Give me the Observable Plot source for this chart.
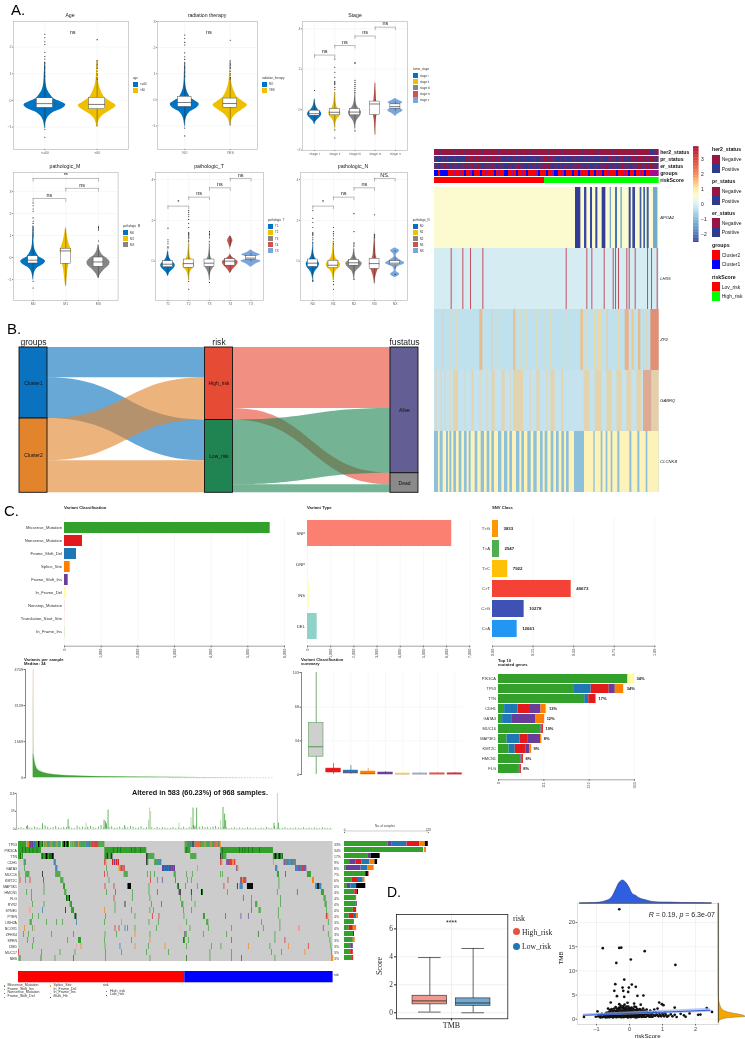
<!DOCTYPE html>
<html><head><meta charset="utf-8">
<script src="https://cdn.jsdelivr.net/npm/d3@7"></script>
<script src="https://cdn.jsdelivr.net/npm/@observablehq/plot@0.6"></script>
<style>
html,body{margin:0;padding:0;background:#fff;overflow:hidden}
#root{position:relative;width:745px;height:1039px;overflow:hidden;font-family:"Liberation Sans",Arial,sans-serif;filter:blur(.3px)}
.t{position:absolute;white-space:pre;line-height:1}
.s{position:absolute}
</style></head><body><div id="root"></div>
<script>
/* ---------- palette ---------- */
const jco=["#0073c2","#efc000","#868686","#cd534c","#7aa6dc"];
const mutColors={m:"#33a02c",g:"#156a14",n:"#e31a1c",d:"#1f78b4",i:"#6a3d9a",s:"#ff7f00",f:"#ffff99",r:"#fb9a99",b:"#000000"};

/* ---------- A: violin shapes, [score, half width] ---------- */
const vMain=[[-1.05,.004],[-.9,.012],[-.75,.03],[-.6,.07],[-.45,.16],[-.3,.34],[-.17,.40],[-.05,.30],[.05,.18],[.2,.11],[.4,.05],[.6,.025],[.9,.012],[1.45,.004]];
const vWide=[[-1,.004],[-.85,.02],[-.7,.05],[-.55,.12],[-.4,.24],[-.2,.36],[-.05,.26],[.1,.15],[.3,.09],[.5,.05],[.7,.025],[1,.012],[1.5,.004]];
const vI=[[-.75,.01],[-.6,.06],[-.45,.2],[-.3,.33],[-.2,.35],[-.1,.3],[0,.18],[.15,.08],[.3,.04],[.55,.005]];
const vII=[[-1,.005],[-.8,.02],[-.6,.06],[-.45,.14],[-.3,.27],[-.15,.3],[0,.22],[.1,.13],[.3,.06],[.5,.035],[.75,.015],[1,.004]];
const vIII=[[-1.05,.004],[-.8,.02],[-.6,.07],[-.45,.16],[-.3,.28],[-.12,.32],[0,.25],[.12,.14],[.3,.06],[.5,.03],[.7,.012],[1.1,.004]];
const vIV=[[-1.3,.003],[-.9,.02],[-.5,.05],[-.2,.1],[0,.12],[.2,.1],[.5,.06],[.9,.03],[1.4,.003]];
const vV=[[-.32,.01],[-.2,.15],[-.05,.38],[.08,.2],[.15,.12],[.22,.2],[.35,.36],[.45,.18],[.55,.01]];
const vM1=[[-1.35,.003],[-.9,.04],[-.5,.07],[-.2,.11],[.05,.12],[.3,.18],[.5,.13],[.8,.07],[1.1,.03],[1.4,.003]];
const vMX=[[-.95,.01],[-.75,.07],[-.55,.18],[-.35,.33],[-.2,.35],[-.05,.27],[.1,.13],[.3,.05],[.6,.005]];
const vT4=[[-.6,.01],[-.4,.14],[-.2,.32],[-.05,.38],[.1,.22],[.3,.02],[.6,.01],[.85,.08],[1,.13],[1.15,.07],[1.25,.005]];
const vTX=[[-.3,.01],[-.15,.2],[0,.48],[.08,.25],[.15,.14],[.22,.25],[.3,.45],[.42,.2],[.55,.01]];
const vN2=[[-.95,.004],[-.7,.03],[-.5,.1],[-.3,.3],[-.12,.4],[0,.3],[.12,.14],[.3,.05],[.5,.02],[.8,.004]];
const vN3=[[-1.15,.005],[-.8,.05],[-.5,.14],[-.25,.24],[-.1,.25],[.05,.16],[.25,.08],[.6,.05],[1,.02],[1.45,.003]];
const vNX=[[-.8,.01],[-.65,.22],[-.5,.05],[-.3,.1],[-.1,.47],[.05,.25],[.2,.06],[.35,.08],[.5,.22],[.65,.01]];

/* outliers */
const outHigh=[2.48,2.35,2.2,2.1,1.8,1.65,1.55,1.42,1.38,1.33,1.28,1.24,1.2,1.15,1.1,1.05,1,.95,.9,-1.08,-1.38];
const outOld=[2.28,1.5,1.45,1.4,1.35,1.3,1.25,1.2,1.1,1,.95,.85,.8,-.95];
const outStageII=[2.5,2.1,1.85,1.6,1.4,1.35,1.3,1.25,1.1,1,-1,-1.4];
const outStageIII=[2.33,2.28,1.45,1.35,1.25,1.15,1.05,.95,.85,-1.05];
const outMX=[1.42,1.36,1.3,1.25,.75];
const outT1=[1.62,1.05,.95,.85,.7,.65];
const outT2=[2.48,2.4,2.3,2.2,2.05,1.85,1.65,1.4,1.35,1.3,1.25,1.2,1.15,1.1,1,.95,-1,-1.38];
const outT3=[1.45,1.38,1.32,1.25,1.15,.95,-1.05];
const outN0=[2.48,2.1,1.9,1.65,1.4,1.35,1.3,1.25,1.15,1.05,.9,-1,-.95];
const outN1=[1.65,1.45,1.35,1.25,1.1,.95,.85,-1,-1.15,-1.38];
const outN2=[2.33,1.45,.9,.85,.75,-.9];
const outN3=[2.28,1.3,1.25,1.2,1.15];

const agePanel={title:"Age",tx:70,ty:16,frame:[13,21,128,149],cats:["<=60",">60"],yDomain:[-1.84,2.96],yTicks:[-1,0,1,2],
  violins:[{c:0,p:vMain,b:[-1.05,-.28,-.12,.08,.9],o:outHigh,w:.155},{c:1,p:vWide,b:[-.95,-.33,-.15,.1,.8],o:outOld,w:.155}],
  notes:[[.53,2.57,"ns"]]};
const radPanel={title:"radiation therapy",tx:207,ty:16,frame:[157,21,257,149],cats:["NO","YES"],yDomain:[-1.9,3],yTicks:[-1,0,1,2,3],
  violins:[{c:0,p:vMain,k:.8,b:[-1,-.27,-.1,.12,.9],o:outHigh,w:.15},{c:1,p:vWide,k:1.05,b:[-.95,-.3,-.14,.05,.85],o:outOld,w:.15}],
  notes:[[.53,2.6,"ns"]]};
const stagePanel={title:"Stage",tx:355,ty:16,frame:[302,21,407,150],cats:["stage i","stage ii","stage iii","stage iv","stage v"],yDomain:[-2.02,4.36],yTicks:[-2,0,2,4],
  violins:[{c:0,p:vI,b:[-.6,-.3,-.2,-.05,.5],o:[.95],w:.25},{c:1,p:vII,b:[-.9,-.28,-.13,.03,.85],o:outStageII,w:.25},{c:2,p:vIII,b:[-.95,-.28,-.12,.03,.8],o:outStageIII,w:.25},{c:3,p:vIV,b:[-1.25,-.27,.28,.4,1.3],o:[],w:.25},{c:4,p:vV,b:[-.1,.05,.15,.26,.4],o:[],w:.25}],
  brackets:[[0,1,2.7,"ns"],[1,2,3.17,"ns"],[2,3,3.64,"ns"],[3,4,4.08,"ns"]]};
const mPanel={title:"pathologic_M",tx:65,ty:167,frame:[13,172,117.6,300],cats:["M0","M1","MX"],yDomain:[-1.95,3.86],yTicks:[-1,0,1,2,3],
  violins:[{c:0,p:vMain,k:.95,b:[-1,-.27,-.12,.06,.85],o:outHigh,w:.15},{c:1,p:vM1,b:[-1.3,-.28,.3,.4,1.3],o:[],w:.15},{c:2,p:vMX,b:[-.95,-.42,-.2,0,.55],o:outMX,w:.15}],
  brackets:[[0,1,2.68,"ns"],[1,2,3.14,"ns"],[0,2,3.59,"**"]]};
const tPanel={title:"pathologic_T",tx:209,ty:167,frame:[155,172,263,300],cats:["T1","T2","T3","T4","TX"],yDomain:[-1.93,4.35],yTicks:[0,2,4],
  violins:[{c:0,p:vI,b:[-.7,-.3,-.15,0,.45],o:outT1,w:.24},{c:1,p:vII,k:.95,b:[-.95,-.32,-.12,.08,.85],o:outT2,w:.24},{c:2,p:vIII,k:.72,b:[-.95,-.28,-.1,.08,.85],o:outT3,w:.24},{c:3,p:vT4,b:[-.55,-.22,0,.1,.3],o:[1.2,1.1,1,.9,.8],w:.24},{c:4,p:vTX,b:[-.05,.07,.15,.25,.4],o:[],w:.24}],
  brackets:[[0,1,2.7,"*"],[1,2,3.14,"ns"],[2,3,3.6,"ns"],[3,4,4.06,"ns"]]};
const nPanel={title:"pathologic_N",tx:353,ty:167,frame:[300,172,407,300],cats:["N0","N1","N2","N3","NX"],yDomain:[-1.93,4.35],yTicks:[0,2,4],
  violins:[{c:0,p:vIII,b:[-1,-.28,-.1,.08,.9],o:outN0,w:.24},{c:1,p:vII,k:1.15,b:[-.95,-.35,-.2,.02,.85],o:outN1,w:.24},{c:2,p:vN2,b:[-.9,-.22,-.08,.06,.6],o:outN2,w:.24},{c:3,p:vN3,b:[-1.1,-.38,-.12,.12,1.1],o:outN3,w:.24},{c:4,p:vNX,b:[-.4,-.2,-.1,0,.2],o:[.5,-.65],w:.24}],
  brackets:[[0,1,2.7,"*"],[1,2,3.14,"ns"],[2,3,3.6,"ns"],[3,4,4.06,"NS."]]};

const legendsA=[
 {x:133,y:78,title:"age",items:["<=60",">60"],y0:81.5},
 {x:262,y:78,title:"radiation_therapy",items:["NO","YES"],y0:81.5},
 {x:413,y:69.3,title:"tumor_stage",items:["stage i","stage ii","stage iii","stage iv","stage v"],y0:73},
 {x:123,y:226.3,title:"pathologic_M",items:["M0","M1","MX"],y0:230},
 {x:268,y:220,title:"pathologic_T",items:["T1","T2","T3","T4","TX"],y0:223.7},
 {x:412.7,y:220,title:"pathologic_N",items:["N0","N1","N2","N3","NX"],y0:223.7}];

/* ---------- A right: heatmap, sample rank 0..674 ---------- */
const heatRows=["APOA2","LHX5","ZP2","GABRQ","CLCNKB"];
const heatBase={APOA2:.5,LHX5:-.06,ZP2:-.3,GABRQ:-.25,CLCNKB:-.85};
const heatStripeOpacity={APOA2:1,LHX5:.72,ZP2:.7,GABRQ:.55,CLCNKB:1};
const stripesAPOA2=[[423,439,-2.5],[450,457,-2.4],[468,474,-2.4],[484,490,-2.4],[503,514,-2.5],[527,531,-1.2],[543,549,-2],[559,564,-1],[584,590,-2.4],[595,603,-2.4],[617,622,-2.2],[628,633,-2.2],[638,644,-2.2],[657,670,-1.2]];
const stripesLHX5=[50,85,108,145,395,457,472,509,536,543,552,577,584,602,639,651,668].map(s=>[s,s+3,3.5]);
const stripesZP2=[[26,29,1.3],[50,53,1.2],[67,70,1.2],[136,145,1.6],[172,175,1.3],[190,193,1.2],[237,244,1.5],[257,260,1.2],[277,280,1.2],[307,310,1.2],[332,335,1.2],[349,352,1.2],[375,378,1.2],[398,401,1.2],[439,447,1.5],[457,460,1.2],[477,485,1.2],[492,502,1.2],[517,522,1.3],[537,540,1.2],[552,555,1.2],[572,584,1.7],[592,599,1.4],[612,619,1.6],[627,630,1.3],[637,640,1.3],[649,674,2.2]];
const stripesGABRQ=[[5,8,1.3],[20,23,1.3],[32,35,1.3],[47,50,1.3],[57,72,1.3],[92,95,1.3],[112,119,1.3],[137,140,1.3],[157,160,1.3],[172,182,1.3],[202,212,1.3],[227,230,1.3],[237,267,1.3],[287,290,1.3],[307,317,1.3],[337,340,1.3],[349,362,1.3],[382,387,1.3],[449,467,1.3],[482,502,1.3],[517,532,1.3],[547,562,1.3],[577,592,1.3],[607,622,1.3],[627,652,2],[652,674,1.4]];
const stripesCLCNKB=[[12,17,.75],[26,36,.75],[42,46,.75],[52,58,.75],[66,74,.75],[82,90,.75],[98,104,.75],[110,122,.75],[130,140,.75],[150,158,.75],[166,172,.75],[180,192,.75],[202,210,.75],[220,226,.75],[234,246,.75],[256,262,.75],[270,280,.75],[290,298,.75],[308,318,.75],[326,332,.75],[340,350,.75],[358,366,.75],[374,382,.75],[390,396,.75],[404,420,.75],[450,478,.75],[482,500,.75],[505,515,.75],[520,530,.75],[535,550,.75],[556,586,.75],[592,610,.75],[616,635,.75],[640,674,.75]];
const heatStripes={APOA2:stripesAPOA2,LHX5:stripesLHX5,ZP2:stripesZP2,GABRQ:stripesGABRQ,CLCNKB:stripesCLCNKB};
const heatDomain=[-2.56,-2,-1,-.4,0,.5,1,1.5,2,3,3.8];
const heatRange=["#313695","#4575b4","#80b6d6","#b5dcea","#dceff5","#fbfbcf","#fee8a0","#fdb566","#f57c4a","#d73027","#a50026"];
const annoRows=["her2_status","pr_status","er_status","groups","riskScore"];
const annoColors={N:"#98163f",P:"#2f3a8f",M:"#5f2c70",R:"#ff0000",B:"#0000ff",Q:"#a01090",G:"#00ff00"};
const annoHer2="NNNMNNNNNNMNNNNMNNNNNNNNMNNNNNNNMNNNNNNNNMNNNNNNMNNNNNNNNMNNNNNNMNNNNNNNNNMNNNNNNNMNNNNNNMNNNNNNNNNNMNNNNNNNPPMN";
const annoPr="MPPPMPMPPPMPPPPPNMNNMNNMNNMNMNNMNMPPMPPMMPMPPMPPPPMPPMMNNMNMMPPMPMPPPMMPMPPMPMPMPPPMMPPMNMMPMMNPMPMNNMNNNMNMNNM";
const annoEr="MMPMMNMMPMMMPMMMNMMNMMNMPMMMMNMPMMMPPMMPMMNMMPPMPMMPMMMNMNMPMMPMPMMMPMMMNMMPMMPPMMPMMMNMPMMPMMNMMMPMMMNNMMNMNNM";
const annoGroups="BBRBBBBRRRQRRQRBRRQBRRRBRRQRRRBRQRRBBRRQRBRRQRBRRRRQBRRRBRRQBBRRQBRRRBRRBQRRRBRRBRQRBRRQRRRBRRRQRBRRBRRQRBRRQ";
const annoRisk=[[0,330,"R"],[330,674,"G"]];
const heatLegends=[
 {t:"her2_status",y:150,s:154.7,c:["#98163f","#2f3a8f"],i:["Negative","Positive"]},
 {t:"pr_status",y:182.3,s:186.7,c:["#98163f","#2f3a8f"],i:["Negative","Positive"]},
 {t:"er_status",y:213.7,s:218.3,c:["#98163f","#2f3a8f"],i:["Negative","Positive"]},
 {t:"groups",y:246,s:250.3,c:["#ff0000","#0000ff"],i:["Cluster2","Cluster1"]},
 {t:"riskScore",y:277.7,s:282,c:["#ff0000","#00ff00"],i:["Lov_risk","High_risk"]}];

/* ---------- B: alluvial ---------- */
const sankeyNodes=[
 {stage:0,name:"Cluster1",fill:"#0b72bf"},{stage:0,name:"Cluster2",fill:"#e2842b"},
 {stage:1,name:"High_risk",fill:"#e64b35"},{stage:1,name:"Low_risk",fill:"#1f8451"},
 {stage:2,name:"Alive",fill:"#635e94"},{stage:2,name:"Dead",fill:"#8a8a8a"}];
const sankeyFlows=[
 ["Cluster1","High_risk",209,"#0b72bf"],["Cluster1","Low_risk",281,"#0b72bf"],
 ["Cluster2","High_risk",291,"#e2842b"],["Cluster2","Low_risk",221,"#e2842b"],
 ["High_risk","Alive",420,"#e64b35"],["High_risk","Dead",80,"#e64b35"],
 ["Low_risk","Alive",447,"#1f8451"],["Low_risk","Dead",55,"#1f8451"]];

/* ---------- C: maftools summary ---------- */
const classNames=["Missense_Mutation","Nonsense_Mutation","Frame_Shift_Del","Splice_Site","Frame_Shift_Ins","In_Frame_Del","Nonstop_Mutation","Translation_Start_Site","In_Frame_Ins"];
const classCounts=[5610,491,327,155,100,55,5,3,10];
const classFill=["#33a02c","#e31a1c","#1f78b4","#ff7f00","#6a3d9a","#ffff99","#fb9a99","#fdbf6f","#b2df8a"];
const typeNames=["SNP","DNP","INS","DEL"];
const typeCounts=[6220,2,80,417];
const typeFill=["#fb8072","#bebada","#ffffb3","#8dd3c7"];
const snvNames=["T>G","T>A","T>C","C>T","C>G","C>A"];
const snvFrac=[.037,.043,.094,.485,.195,.152];
const snvCounts=["3833","2547","7922","40673","10278","12661"];
const snvFill=["#ff9800","#4caf50","#ffc107","#f44336","#3f51b5","#2196f3"];
const perSampleRank=[0,3,6,10,16,25,40,60,90,130,190,270,380,520,680,850,930];
const perSampleTotal=[4709,1250,900,640,440,330,250,190,140,105,75,55,38,26,16,8,3];
const perSampleMissense=[1090,950,720,520,370,280,215,165,120,90,65,47,32,22,13,6,2];
const summaryBoxes=[
 {lo:0,q1:18,med:28,q3:52,hi:103,c:"#3f8f3f",fill:"#cfcfcf"},{lo:0,q1:2,med:3,q3:6,hi:11,c:"#e31a1c",fill:"#e31a1c"},
 {lo:0,q1:1,med:2,q3:4,hi:9,c:"#1f78b4",fill:"#1f78b4"},{lo:0,q1:0,med:1,q3:3,hi:6,c:"#ff7f00",fill:"#ff7f00"},
 {lo:0,q1:0,med:1,q3:2,hi:3,c:"#6a3d9a",fill:"#6a3d9a"},{lo:0,q1:0,med:.5,q3:1.4,hi:2,c:"#f7f59a",fill:"#f7f59a"},
 {lo:0,q1:0,med:.5,q3:1.2,hi:2,c:"#9ec8e8",fill:"#9ec8e8"},{lo:0,q1:0,med:.5,q3:1.2,hi:2,c:"#e8604c",fill:"#e8604c"},
 {lo:0,q1:0,med:.5,q3:1.2,hi:2,c:"#d03040",fill:"#d03040"}];
const topGenes=["PIK3CA","TP53","TTN","CDH1","GATA3","MUC16","MAP3K1","KMT2C","HMCN1","FLG"];
const topLabels=["34%","34%","17%","13%","12%","10%","8%","9%","8%","8%"];
const topCounts=[[317,"m"],[16,"f"],[184,"m"],[43,"d"],[44,"n"],[15,"i"],[21,"s"],[2,"f"],[211,"m"],[10,"d"],[17,"n"],[2,"s"],[15,"m"],[33,"d"],[28,"n"],[28,"i"],[13,"s"],[2,"f"],[10,"m"],[22,"d"],[2,"n"],[58,"i"],[21,"s"],[104,"m"],[3,"i"],[3,"n"],[21,"m"],[32,"d"],[20,"n"],[30,"i"],[3,"s"],[26,"m"],[15,"d"],[27,"n"],[9,"i"],[4,"s"],[55,"m"],[2,"i"],[4,"n"],[51,"m"],[2,"i"],[3,"n"]];
const topCountGene=[0,0,1,1,1,1,1,1,2,2,2,2,3,3,3,3,3,3,4,4,4,4,4,5,5,5,6,6,6,6,6,7,7,7,7,7,8,8,8,9,9,9];

/* ---------- C: oncoplot, sample rank 0..944 ---------- */
const oncoGenes=["TP53","PIK3CA","TTN","CDH1","GATA3","MUC16","KMT2C","MAP3K1","HMCN1","FLG","RYR2","SYNE1","PTEN","USH2A","NCOR1","ZFHX4","SPEN","DMD","MUC17","NEB"];
const oncoPct=["33%","34%","17%","9%","8%","7%","6%","6%","4%","4%","4%","4%","4%","3%","4%","3%","3%","3%","3%","3%"];
const onco={
TP53:[[0,"m",25],[27,"ssdidimd"],[51,"mmmbgmmg"],[77,"mmsmdmmsmmdmmsmdm"],[132,"mgbmgbg"],[157,"msmsmmdmsm"],[187,"mdmdmmd"],[208,"ddnmnndnn"],[235,"nnmmmmmm"],[500,"mmmgmg"],[518,"ddbd"],[530,"snsnsnmm"],[554,"mmsmmdmmsmm"],[587,"isnsmis"]],
PIK3CA:[[0,"m",69],[12,"g"],[22,"g"],[34,"g"],[44,"g"],[56,"g"],[259,"m",126],[285,"g"],[298,"g"],[306,"g"],[340,"g"],[350,"g"],[366,"g"],[500,"m",17],[504,"g"],[607,"m",158],[612,"g"],[664,"g"],[672,"g"],[680,"g"],[690,"g"],[703,"g"],[724,"g"]],
TTN:[[0,"mmgsm"],[69,"mgmmgbgmgggbg"],[259,"mggbmmgb"],[385,"bgmmmmmm"],[517,"mmmmmm"],[607,"bmgmmm"],[765,"mgbgmgbgmg"]],
CDH1:[[17,"md"],[107,"dd"],[259,"ns"],[282,"nsisnsn"],[385,"bm"],[409,"mdmmdmd"],[607,"ns"],[625,"ininnnssn"],[765,"s"],[797,"iimiddmdidmi"]],
GATA3:[[18,"m"],[112,"dd"],[265,"m"],[302,"ssnisn"],[432,"iidididiididi"],[537,"s"],[655,"is"],[772,"dd"],[832,"iddiidiniii"]],
MUC16:[[2,"m"],[22,"mmmm"],[72,"b"],[112,"mmmmm"],[259,"n"],[267,"m"],[317,"mmmm"],[387,"m"],[397,"m"],[409,"m"],[467,"mm"],[505,"m"],[522,"m"],[607,"m"],[612,"m"],[777,"mm"],[802,"g"],[867,"mmmm"]],
KMT2C:[[5,"n"],[22,"m"],[35,"n"],[75,"g"],[127,"mmm"],[272,"m"],[397,"n"],[417,"m"],[432,"i"],[472,"n"],[507,"m"],[519,"m"],[629,"n"],[667,"insdnd"],[782,"m"],[882,"ss"]],
MAP3K1:[[77,"m"],[135,"mm"],[260,"n"],[287,"n"],[327,"dbbb"],[392,"m"],[477,"mg"],[502,"m"],[537,"m"],[617,"n"],[657,"b"],[665,"ddd"],[687,"bbbbbb"],[782,"m"],[892,"ddbbdd"]],
HMCN1:[[25,"m"],[39,"m"],[77,"m"],[139,"mm"],[265,"m"],[292,"n"],[342,"m"],[392,"m"],[417,"n"],[482,"ib"],[519,"b"],[549,"bg"],[627,"m"],[777,"m"],[837,"n"],[909,"mmm"]],
FLG:[[40,"m"],[144,"gmmb"],[287,"n"],[342,"m"],[395,"m"],[487,"m"],[520,"m"],[675,"n"],[700,"m"],[787,"m"],[917,"mm"]],
RYR2:[[42,"m"],[77,"m"],[155,"mg"],[290,"m"],[320,"b"],[400,"m"],[430,"n"],[490,"mm"],[530,"m"],[700,"m"],[712,"mm"],[787,"m"],[920,"mm"]],
SYNE1:[[32,"r"],[36,"r"],[72,"d"],[142,"b"],[159,"mmm"],[258,"s"],[290,"m"],[340,"m"],[395,"m"],[405,"m"],[495,"m"],[520,"m"],[700,"n"],[722,"mm"],[780,"m"],[925,"m"]],
PTEN:[[42,"m"],[60,"m"],[169,"gb"],[262,"m"],[350,"m"],[402,"n"],[422,"n"],[497,"m"],[555,"mm"],[622,"n"],[668,"i"],[690,"i"],[780,"m"],[922,"rns"]],
USH2A:[[35,"mm"],[85,"m"],[115,"m"],[132,"m"],[175,"d"],[258,"m"],[310,"s"],[392,"m"],[420,"m"],[505,"m"],[565,"mm"],[730,"m"],[785,"m"],[930,"m"]],
NCOR1:[[18,"s"],[42,"m"],[48,"r"],[290,"n"],[302,"n"],[320,"d"],[328,"d"],[350,"m"],[415,"m"],[485,"r"],[515,"m"],[570,"m"],[640,"m"],[735,"m"],[785,"m"],[840,"rr"],[915,"n"]],
ZFHX4:[[15,"m"],[30,"m"],[100,"m"],[165,"d"],[260,"m"],[295,"m"],[350,"s"],[395,"m"],[500,"b"],[505,"m"],[555,"m"],[625,"m"],[720,"g"],[770,"m"],[930,"m"]],
SPEN:[[28,"m"],[46,"m"],[148,"m"],[180,"mmm"],[258,"m"],[340,"m"],[395,"s"],[495,"nm"],[510,"m"],[640,"n"],[770,"m"],[800,"n"],[935,"m"]],
DMD:[[42,"m"],[175,"r"],[188,"s"],[260,"m"],[305,"d"],[350,"s"],[390,"m"],[440,"s"],[505,"m"],[580,"m"],[608,"m"],[690,"s"],[755,"m"],[810,"s"],[870,"n"],[938,"m"]],
MUC17:[[0,"n"],[70,"m"],[125,"m"],[170,"m"],[262,"m"],[310,"m"],[385,"m"],[450,"m"],[575,"m"],[640,"m"],[760,"m"],[790,"m"],[860,"s"],[940,"m"]],
NEB:[[2,"m"],[5,"g"],[68,"g"],[110,"m"],[165,"g"],[262,"m"],[395,"m"],[505,"g"],[575,"m"],[640,"m"],[670,"g"],[770,"m"],[940,"ss"]]
};
const oncoSide=[
 [["m",118],["i",12],["d",40],["n",35],["s",15],["b",8]],[["m",215],["f",3],["s",5]],[["m",65],["i",7],["b",25]],[["m",14],["i",18],["n",16],["d",21],["s",14],["b",7]],
 [["m",4],["i",41],["d",18],["s",16],["n",1]],[["m",58],["b",7],["n",2]],[["m",20],["n",18],["d",13],["s",5]],[["m",8],["i",9],["d",16],["b",25]],
 [["m",28],["n",7],["b",3]],[["m",31],["n",2]],[["m",31],["i",4]],[["m",24],["n",9]],[["m",13],["n",14],["d",6],["s",5]],[["m",25],["i",2]],
 [["m",13],["n",11],["s",9]],[["m",25],["b",2]],[["m",24],["s",5]],[["m",17],["i",7]],[["m",17],["n",7]],[["m",22],["n",3]]];
const tmbSpikes=[[269,63,"m"],[257,30,"m"],[261,25,"m"],[394,70,"l"],[397,58,"l"],[390,30,"l"],[524,70,"m"],[535,70,"m"],[518,38,"l"],[614,72,"m"],[619,50,"m"],[607,30,"l"],[777,118,"l"],[780,20,"m"],[767,20,"m"],[149,32,"m"],[203,20,"l"],[72,18,"m"],[27,12,"m"],[319,12,"m"],[482,20,"l"],[264,18,"m"],[622,28,"m"],[525,12,"m"],[530,10,"m"]];
const tmbLow=[3,5,2,8,4,3,7,5,2,4,11,6,3,5,9,4,3,6,5,8,3,2,10,5,7,4,6,9,5,3,7,12,4,6,5,8,3,4,7,2,5,4,9,6,3,4,8,2,5,3,4,2,6,3,5,4,2,3,5,2,4,3,7,2,5,4,3,2,6,8,5,6,4,7,9,5,3,6,4,2,3,5,2,4,3,2,5,3,2,4,2,3,2,6,3,2,8,4,2,3,5,2,3,2,4,3,2,5,2,3,2,4,3,2,5,3,2,3];
const oncoLegend=[["Missense_Mutation","#33a02c"],["Frame_Shift_Ins","#6a3d9a"],["Nonsense_Mutation","#e31a1c"],["Frame_Shift_Del","#1f78b4"],["Splice_Site","#ff7f00"],["In_Frame_Del","#ffff99"],["In_Frame_Ins","#fb9a99"],["Multi_Hit","#000000"]];

/* ---------- D ---------- */
const tmbBoxes=[{name:"High_risk",lo:.05,q1:.6,med:.85,q3:1.22,hi:3.95,fill:"#ee9b8e"},{name:"Low_risk",lo:0,q1:.5,med:.7,q3:1.03,hi:4.6,fill:"#72a8d0"}];
const scatterOut=[[-.31,22.76],[-.81,14.7],[-.31,14.75],[-.25,14.8],[.46,14.07],[.04,12.35],[-.4,11.65],[1.39,11.24],[-.43,7.24],[-.16,8.2],[-.21,6.55],[.07,7.17],[.19,6.7],[-.02,6.55],[-.46,5.86],[-.19,5.86],[-.04,5.65],[-.38,4.76],[-.16,4.62],[.24,4.83],[.42,4.9],[-.57,3.45],[-.31,3.1],[-.06,3.4],[.14,3.24],[.34,3],[.9,3.45],[.98,3.1],[1.03,2.9],[1.37,2.4],[2.34,2.3],[2.5,1.5],[-.97,1.6],[.85,2.2]];
const scatterCore=[[-1.38,.45],[-1.02,.5],[-.93,.9],[-.88,.35],[-.84,1.1],[-.8,.5],[-.76,.8],[-.72,.35],[-.7,1.3],[-.68,.6],[-.65,2.2],[-.62,.9],[-.6,.4],[-.58,1.5],[-.55,.7],[-.54,2.1],[-.52,1.1],[-.5,.35],[-.48,1.8],[-.47,.6],[-.45,1.3],[-.43,.9],[-.42,2.5],[-.4,.4],[-.38,1.6],[-.37,.7],[-.35,1.1],[-.33,2.1],[-.32,.5],[-.3,1.4],[-.29,.8],[-.27,2.8],[-.26,.4],[-.25,1.8],[-.23,1],[-.22,.6],[-.2,2.3],[-.19,1.3],[-.18,.4],[-.16,.8],[-.15,3],[-.14,1.6],[-.12,.5],[-.11,1.1],[-.1,2.1],[-.08,.7],[-.07,1.5],[-.05,.35],[-.04,2.6],[-.02,1],[0,.6],[.01,1.9],[.03,1.3],[.04,.4],[.06,2.4],[.07,.8],[.09,1.6],[.1,.5],[.12,1.1],[.13,2],[.15,.7],[.17,1.4],[.18,.35],[.2,2.5],[.22,.9],[.24,1.7],[.25,.5],[.27,1.2],[.29,.7],[.31,2.1],[.33,.9],[.35,1.4],[.37,.45],[.39,1.1],[.41,2.2],[.43,.7],[.45,1.5],[.47,.5],[.5,1],[.52,2],[.55,.7],[.58,1.3],[.6,.5],[.63,1.8],[.66,.9],[.7,.5],[.72,1.4],[.75,2],[.78,.7],[.82,1],[.88,.6],[.93,.9],[1,1.2],[1.05,.6],[1.1,.9],[1.18,.7],[1.25,1],[1.3,.6],[1.37,.9],[1.43,.45],[1.55,1.1],[1.65,.8],[1.7,.5],[1.82,1.2],[2.08,.9],[2.15,.95],[-.95,.6],[-.6,1.9],[-.5,1.4],[-.4,.9],[-.35,1.9],[-.3,.5],[-.25,1.1],[-.2,.8],[-.15,.5],[-.1,.9],[-.05,1.3],[0,1.2],[.05,.8],[.1,1.1],[.15,1.3],[.2,.6],[.25,.9],[.3,.5],[-.62,.6],[-.55,1.1],[-.48,.7],[-.44,.5],[-.4,1.4],[-.36,.6],[-.34,.9],[-.28,.6],[-.24,.7],[-.22,1.2],[-.18,1.1],[-.13,.7],[-.09,.5],[-.06,.8],[-.03,.6],[.02,.5],[.08,1.4],[.11,.7],[.14,.9],[.19,1.1],[.23,.4],[.28,.7],[.32,1.2],[.36,.8],[.4,.6],[.44,1],[-.7,.7],[-.75,.5],[-.66,1.1],[-.56,.5],[-.52,.8]];
const scatterDense=[[-.9,.5],[-.86,.75],[-.82,.4],[-.78,.55],[-.74,1.05],[-.71,.6],[-.66,.4],[-.64,1.4],[-.6,1.2],[-.58,.85],[-.57,1.9],[-.53,.55],[-.51,1.6],[-.49,1],[-.46,2.2],[-.44,1.15],[-.41,1.7],[-.39,1.1],[-.38,2.2],[-.36,1.4],[-.34,.45],[-.33,1.6],[-.31,2.4],[-.3,1],[-.28,2],[-.27,1.2],[-.26,2.4],[-.24,1.5],[-.23,.45],[-.21,1.7],[-.2,.5],[-.19,2.7],[-.17,1.9],[-.16,1.2],[-.14,2.3],[-.13,1.1],[-.12,1.9],[-.1,1.4],[-.09,2.6],[-.08,1.1],[-.06,1.9],[-.05,.9],[-.03,2.2],[-.02,1.5],[0,2.3],[.01,.9],[.02,1.6],[.04,2.1],[.05,1.2],[.07,1.8],[.09,1],[.1,2.2],[.12,.6],[.13,1.5],[.15,2.6],[.16,1],[.18,1.9],[.2,1.4],[.21,.8],[.23,2.1],[.25,1.2],[.26,1.9],[.28,.5],[.3,1.5],[.32,.7],[.34,1.9],[.36,1.1],[.38,.7],[.4,1.7],[.42,1.3],[.44,.5],[.46,1.8],[.48,1.1],[.5,.5],[.53,1.5],[.56,1.1],[.59,.7],[.62,1.2],[.65,.5],[.68,1.1],[.74,.8],[.8,1.4],[.85,.8],[.9,1.3],[.96,.6],[1.02,.9],[1.08,1.3],[1.14,.5]];
const trendX=[-1.4,2.45];
const trendY=[.8,1.85];
const trendLow=[.55,1.45];
const trendHigh=[1.05,2.25];
const topDensityX=[-1.5,-1.1,-.9,-.7,-.55,-.4,-.3,-.2,-.1,0,.1,.2,.3,.5,.7,.9,1.2,1.6,2,2.5];
const topDensity=[0,.01,.03,.1,.22,.62,.9,1,.9,.68,.4,.33,.22,.13,.06,.04,.03,.015,.01,0];
const rightDensityY=[23.9,8,5,3.6,3,2,1.5,1,.7,.5,.3,.1,-.3,-.8];
const rightDensity=[0,.003,.01,.03,.06,.14,.3,.7,.95,1,.6,.25,.05,0];

/* ---------- helpers ---------- */
const root=document.getElementById("root");
const FONT="Liberation Sans, Arial, sans-serif";
function panel(frame,opts){
  const [x0,y0,x1,y1]=frame,m=36;
  const p=Plot.plot({width:x1-x0+2*m,height:y1-y0+2*m,marginLeft:m,marginRight:m,marginTop:m,marginBottom:m,
    style:{background:"transparent",maxWidth:"none",overflow:"visible",fontFamily:FONT},...opts,
    x:{axis:null,...opts.x},y:{axis:null,...opts.y}});
  p.style.position="absolute";p.style.left=(x0-m)+"px";p.style.top=(y0-m)+"px";
  root.appendChild(p);return p;
}
function label(x,y,txt,o={}){
  const d=document.createElement("div");d.className="t";d.textContent=txt;
  const a=o.anchor==="middle"?"-50%":o.anchor==="end"?"-100%":"0";
  d.style.cssText=`left:${x}px;top:${y}px;font-size:${o.size||4}px;color:${o.color||"#000"};font-weight:${o.weight||"normal"};font-style:${o.style||"normal"};font-family:${o.family||FONT};transform:translate(${a},-50%)${o.rotate?` rotate(${o.rotate}deg)`:""};`;
  root.appendChild(d);
}
function swatch(x,y,w,h,c,round){
  const d=document.createElement("div");d.className="s";
  d.style.cssText=`left:${x}px;top:${y}px;width:${w}px;height:${h}px;background:${c};${round?"border-radius:50%":""}`;
  root.appendChild(d);
}

/* ---------- section letters ---------- */
label(11,9,"A.",{size:15});label(7,328,"B.",{size:15});label(4,510,"C.",{size:15});label(387,892,"D.",{size:14});

/* ---------- A violins ---------- */
function violin(s){
  const n=s.cats.length;
  const shape=s.violins.flatMap((v,i)=>v.p.map(([y,w])=>({i,y,w:w*(v.k||1),c:jco[v.c]})));
  const boxes=s.violins.map((v,i)=>({i,lo:v.b[0],q1:v.b[1],med:v.b[2],q3:v.b[3],hi:v.b[4],w:v.w}));
  const outs=s.violins.flatMap((v,i)=>v.o.map(y=>({i,y})));
  const br=(s.brackets||[]).map(([a,b,y,t])=>({a,b,y,t}));
  panel(s.frame,{
    x:{type:"linear",domain:[-.6,n-1+.6]},y:{domain:s.yDomain},color:{type:"identity"},
    marks:[
      Plot.gridX(d3.range(n),{stroke:"#eeeeee",strokeOpacity:1,strokeWidth:.5}),
      Plot.gridY(s.yTicks,{stroke:"#eeeeee",strokeOpacity:1,strokeWidth:.5}),
      Plot.areaX(shape,{y:"y",x1:d=>d.i-d.w,x2:d=>d.i+d.w,z:"i",fill:"c",curve:"catmull-rom"}),
      Plot.ruleX(boxes,{x:"i",y1:"lo",y2:"hi",stroke:"#222",strokeWidth:.4}),
      Plot.dot(outs,{x:"i",y:"y",r:.55,fill:"#111"}),
      Plot.rect(boxes,{x1:d=>d.i-d.w,x2:d=>d.i+d.w,y1:"q1",y2:"q3",fill:"white",stroke:"#333",strokeWidth:.4}),
      Plot.ruleY(boxes,{y:"med",x1:d=>d.i-d.w,x2:d=>d.i+d.w,stroke:"#222",strokeWidth:.6}),
      Plot.ruleY(br,{y:"y",x1:"a",x2:"b",stroke:"#777",strokeWidth:.5}),
      Plot.ruleX(br,{x:"a",y1:"y",y2:d=>d.y-.17,stroke:"#777",strokeWidth:.5}),
      Plot.ruleX(br,{x:"b",y1:"y",y2:d=>d.y-.17,stroke:"#777",strokeWidth:.5}),
      Plot.text(br,{x:d=>(d.a+d.b)/2,y:"y",text:"t",fontSize:5.5,dy:-3.5,fill:"#222"}),
      Plot.text(s.notes||[],{x:d=>d[0],y:d=>d[1],text:d=>d[2],fontSize:5.5,fill:"#222"}),
      Plot.frame({stroke:"#bdbdbd",strokeWidth:.7}),
      Plot.axisX(d3.range(n),{tickFormat:i=>s.cats[i],label:null,fontSize:3.5,tickSize:1,tickPadding:1,stroke:"#888",fill:"#666"}),
      Plot.axisY(s.yTicks,{label:null,fontSize:3.6,tickSize:1,tickPadding:1,stroke:"#888",fill:"#666",tickFormat:d=>String(d).replace("-","−")})
    ]});
  label(s.tx,s.ty,s.title,{size:5.2,anchor:"middle",color:"#222"});
}
[agePanel,radPanel,stagePanel,mPanel,tPanel,nPanel].forEach(violin);
legendsA.forEach(l=>{
  label(l.x,l.y,l.title,{size:2.9,color:"#333"});
  l.items.forEach((t,i)=>{
    swatch(l.x,l.y0+i*6.05,5.4,5.4,jco[i]);
    label(l.x+7,l.y0+i*6.05+2.7,t,{size:2.9,color:"#333"});
  });
});

/* ---------- A heatmap ---------- */
const annoRects=[];
[annoHer2,annoPr,annoEr,annoGroups].forEach((s,r)=>{
  annoRects.push({row:annoRows[r],s:0,e:674,c:annoColors[r==3?"Q":"M"]});
  [...s].forEach((ch,i)=>annoRects.push({row:annoRows[r],s:i*6,e:i*6+6,c:annoColors[ch]}));
});
annoRisk.forEach(([s,e,c])=>annoRects.push({row:"riskScore",s,e,c:annoColors[c]}));
panel([434.3,148.3,659,185],{
  x:{type:"linear",domain:[0,674]},y:{type:"band",domain:annoRows,padding:.13,paddingOuter:0},color:{type:"identity"},
  marks:[Plot.rect(annoRects,{x1:"s",x2:"e",y:"row",fill:"c",shapeRendering:"geometricPrecision"}),
    Plot.axisY(annoRows,{anchor:"right",label:null,tickSize:0,tickPadding:1,fontSize:5.2,fontWeight:"bold",fill:"#111"})]});
const heatBaseRects=heatRows.map(r=>({row:r,s:0,e:674,v:heatBase[r]}));
const heatStripeRects=heatRows.flatMap(r=>heatStripes[r].map(([s,e,v])=>({row:r,s,e,v,o:heatStripeOpacity[r]})));
panel([434.3,187,659,491.7],{
  x:{type:"linear",domain:[0,674]},y:{type:"band",domain:heatRows,padding:.005,paddingOuter:0},
  color:{type:"linear",domain:heatDomain,range:heatRange,interpolate:"rgb"},
  marks:[Plot.rect(heatBaseRects,{x1:"s",x2:"e",y:"row",fill:"v"}),
    Plot.rect(heatStripeRects,{x1:"s",x2:"e",y:"row",fill:"v",fillOpacity:"o",shapeRendering:"geometricPrecision"}),
    Plot.axisY(heatRows,{anchor:"right",label:null,tickSize:0,tickPadding:1,fontSize:4.2,fontStyle:"italic",fill:"#222"})]});
const barSteps=d3.range(-2.56,3.8,.05);
panel([693.3,147.3,698.8,242.3],{
  y:{domain:[-2.56,3.8]},x:{domain:[0,1]},color:{type:"linear",domain:heatDomain,range:heatRange,interpolate:"rgb"},
  marks:[Plot.rect(barSteps,{x1:0,x2:1,y1:d=>d,y2:d=>d+.06,fill:d=>d}),
    Plot.axisY([-2,-1,0,1,2,3],{anchor:"right",label:null,tickSize:0,tickPadding:2,fontSize:5,fill:"#222",tickFormat:d=>String(d).replace("-","−")})]});
heatLegends.forEach(l=>{
  label(712,l.y,l.t,{size:5.2,weight:"bold",color:"#111"});
  l.i.forEach((t,i)=>{swatch(712,l.s+i*9.33,8,9.33,l.c[i]);label(721.7,l.s+i*9.33+4.6,t,{size:5,color:"#222"});});
});

/* ---------- B alluvial ---------- */
const total=1002;
const nodeSum={},srcOff={},tgtOff={},nodeTop={};
sankeyFlows.forEach(([a,b,v])=>{srcOff[a]=0;tgtOff[b]=0;});
[[0,"Cluster1",490],[0,"Cluster2",512],[1,"High_risk",500],[1,"Low_risk",502],[2,"Alive",867],[2,"Dead",135]].forEach(([st,n,v])=>{nodeSum[n]=v;nodeSum["_"+st]=(nodeSum["_"+st]||0);nodeTop[n]=nodeSum["_"+st];nodeSum["_"+st]+=v;});
const stageOf=Object.fromEntries(sankeyNodes.map(d=>[d.name,d.stage]));
const nodeW=.151;
const ribbons=sankeyFlows.flatMap(([a,b,v,c],i)=>{
  const t0=nodeTop[a]+srcOff[a],t1=nodeTop[b]+tgtOff[b];srcOff[a]+=v;tgtOff[b]+=v;
  return [{i,c,x:stageOf[a]+nodeW,y1:t0,y2:t0+v},{i,c,x:stageOf[b],y1:t1,y2:t1+v}];
});
const nodeRects=sankeyNodes.map(d=>({...d,top:nodeTop[d.name],bot:nodeTop[d.name]+nodeSum[d.name]}));
panel([19,346.7,418,492],{
  x:{type:"linear",domain:[0,2+nodeW]},y:{domain:[total,0]},color:{type:"identity"},
  marks:[Plot.areaY(ribbons,{x:"x",y1:"y1",y2:"y2",z:"i",fill:"c",fillOpacity:.62,curve:"bump-x"}),
    Plot.rect(nodeRects,{x1:"stage",x2:d=>d.stage+nodeW,y1:"top",y2:"bot",fill:"fill",stroke:"#111",strokeWidth:.9}),
    Plot.text(nodeRects,{x:d=>d.stage+nodeW/2,y:d=>(d.top+d.bot)/2,text:"name",fontSize:5,fill:"#111"}),
    Plot.text([[0,"groups"],[1,"risk"],[2,"fustatus"]],{x:d=>d[0]+nodeW/2,y:0,text:d=>d[1],dy:-5,fontSize:8.6,fill:"#222"})]});

/* ---------- C summary bars ---------- */
const faint={stroke:"#f3f3f3",strokeOpacity:1,strokeWidth:.6};
const axisGrey={stroke:"#666",fill:"#444"};
function hbar(frame,names,vals,fills,domain,ticks,fmt,title,tx,pad,extra=[]){
  const rows=names.map((n,i)=>({n,v:vals[i],c:fills[i]}));
  panel(frame,{
    x:{domain},y:{type:"band",domain:names,padding:pad,paddingOuter:pad/2,align:.5,insetBottom:4},color:{type:"identity"},
    marks:[Plot.gridX(ticks,faint),Plot.barX(rows,{x:"v",y:"n",fill:"c"}),...extra,
      Plot.frame({anchor:"bottom",stroke:"#666",strokeWidth:.6}),
      Plot.axisX(ticks,{label:null,fontSize:3.7,tickSize:1.6,tickPadding:1,tickRotate:-90,tickFormat:fmt,...axisGrey}),
      Plot.axisY(names,{label:null,fontSize:4.2,tickSize:0,tickPadding:2.5,fill:"#333"})]});
  label(tx,507.5,title,{size:4.2,weight:"bold",color:"#222"});
}
hbar([64,517,284,645.7],classNames,classCounts,classFill,[0,6000],[0,1000,2000,3000,4000,5000,6000],d=>d,"Variant Classification",64,.13);
hbar([307,517,469.3,645.7],typeNames,typeCounts,typeFill,[0,7000],[0,1000,2000,3000,4000,5000,6000,7000],d=>d,"Variant Type",307,.16);
hbar([492,516,654.3,645.7],snvNames,snvFrac,snvFill,[0,1],[0,.25,.5,.75,1],d=>d.toFixed(2),"SNV Class",492,.14,
  [Plot.text(snvNames.map((n,i)=>({n,v:snvFrac[i],t:snvCounts[i]})),{x:"v",y:"n",text:"t",dx:5,textAnchor:"start",fontSize:4.4,fontWeight:"bold",fill:"#222"})]);

/* variants per sample */
const perSample=perSampleRank.map((r,i)=>({r,t:perSampleTotal[i],m:perSampleMissense[i]}));
panel([25.3,668.7,273,777],{
  x:{domain:[0,968],insetLeft:7.7},y:{domain:[0,4709]},
  marks:[Plot.areaY(perSample,{x:"r",y:"t",fill:"#c9dcc0",curve:"linear"}),
    Plot.ruleX([0],{y1:1100,y2:4709,stroke:"#e8a89a",strokeWidth:.5}),
    Plot.areaY(perSample,{x:"r",y:"m",fill:"#41a33a",curve:"linear"}),
    Plot.ruleY([0],{x1:550,x2:968,stroke:"#999",strokeDasharray:"1.5,1.5",strokeWidth:.4}),
    Plot.frame({anchor:"left",stroke:"#555",strokeWidth:.7}),
    Plot.axisY([0,1569,3139,4709],{label:null,fontSize:3.8,tickSize:1.5,tickPadding:1,tickFormat:d=>String(d),...axisGrey})]});
label(24,660,"Variants per sample",{size:4.2,weight:"bold",color:"#222"});
label(24,664.3,"Median: 34",{size:4.2,weight:"bold",color:"#222"});

/* variant classification summary */
const sb=summaryBoxes.map((d,i)=>({...d,i}));
panel([301,672,463,774],{
  x:{type:"linear",domain:[-.85,8.5]},y:{domain:[0,103]},color:{type:"identity"},
  marks:[Plot.gridX(d3.range(9),faint),Plot.gridY([34,68],faint),
    Plot.ruleX(sb,{x:"i",y1:"lo",y2:"hi",stroke:"c",strokeWidth:.7}),
    Plot.rect(sb,{x1:d=>d.i-.42,x2:d=>d.i+.42,y1:"q1",y2:"q3",fill:"fill",stroke:"c",strokeWidth:.5}),
    Plot.ruleY(sb,{y:"med",x1:d=>d.i-.42,x2:d=>d.i+.42,stroke:d=>d.i?"#bb3344":"#3f8f3f",strokeWidth:.9,strokeOpacity:d=>d.i?.5:1}),
    Plot.frame({anchor:"left",stroke:"#555",strokeWidth:.7}),
    Plot.axisY([0,34,68,103],{label:null,fontSize:3.8,tickSize:1.5,tickPadding:1,...axisGrey})]});
label(301,660,"Variant Classification",{size:4.2,weight:"bold",color:"#222"});
label(301,664.3,"summary",{size:4.2,weight:"bold",color:"#222"});

/* top 10 genes */
const topRows=topCounts.map(([v,t],i)=>({g:topGenes[topCountGene[i]],v,c:mutColors[t]}));
const topEnds=topGenes.map((g,i)=>({g,t:topLabels[i],v:d3.sum(topRows.filter(d=>d.g===g),d=>d.v)}));
panel([498,671.8,634,775.1],{
  x:{domain:[0,333]},y:{type:"band",domain:topGenes,padding:.13,paddingOuter:.065},color:{type:"identity"},
  marks:[Plot.gridX([111,222,333],faint),Plot.barX(topRows,{x:"v",y:"g",fill:"c"}),
    Plot.text(topEnds,{x:"v",y:"g",text:"t",dx:2,textAnchor:"start",fontSize:4,fontWeight:"bold",fill:"#222"}),
    Plot.frame({anchor:"bottom",stroke:"#666",strokeWidth:.6,dy:4}),
    Plot.axisX([0,111,222,333],{label:null,fontSize:3.7,tickSize:1.5,tickPadding:1,tickRotate:-90,dy:4,...axisGrey}),
    Plot.axisY(topGenes,{label:null,fontSize:4,tickSize:0,tickPadding:2.5,fill:"#333"})]});
label(498,660.5,"Top 10",{size:4.2,weight:"bold",color:"#222"});
label(498,664.8,"mutated genes",{size:4.2,weight:"bold",color:"#222"});

/* ---------- oncoplot ---------- */
label(200,793,"Altered in 583 (60.23%) of 968 samples.",{size:7.3,weight:"bold",anchor:"middle",color:"#111"});
const tmbBars=[...tmbLow.map((v,i)=>({x:i*8,v,k:"m"})),...tmbSpikes.map(([x,v,k])=>({x,v,k}))];
panel([15.7,793.3,332.3,829],{
  x:{domain:[0,944],insetLeft:2},y:{domain:[0,118]},color:{type:"identity"},
  marks:[Plot.rect(tmbBars,{x1:"x",x2:d=>d.x+2.4,y1:0,y2:"v",fill:d=>d.k==="l"?"#a8d3a0":"#3fa53a",shapeRendering:"geometricPrecision"}),
    Plot.frame({anchor:"left",stroke:"#666",strokeWidth:.5}),
    Plot.ruleY([0],{stroke:"#888",strokeWidth:.3}),
    Plot.axisY([0,59,118],{label:null,fontSize:3.2,tickSize:1,tickPadding:1,...axisGrey})]});
const oncoBg=oncoGenes.map(g=>({g}));
const oncoRects=oncoGenes.flatMap(g=>onco[g].flatMap(([s,seq,len])=>len?[{g,s,e:s+len,c:mutColors[seq]}]:[...seq].map((t,i)=>({g,s:s+i*3,e:s+i*3+(seq.length===1?2:3),c:mutColors[t]}))));
panel([17.7,832,332.3,969.3],{
  x:{domain:[0,944]},y:{type:"band",domain:oncoGenes,padding:.04,paddingOuter:.02},color:{type:"identity"},
  marks:[Plot.rect(oncoBg,{x1:0,x2:944,y:"g",fill:"#cccccc"}),
    Plot.rect(oncoRects,{x1:"s",x2:"e",y:"g",fill:"c",shapeRendering:"geometricPrecision"}),
    Plot.axisY(oncoGenes,{label:null,tickSize:0,tickPadding:1.6,fontSize:3.5,fill:"#333"}),
    Plot.axisY(oncoGenes,{anchor:"right",label:null,tickSize:0,tickPadding:1,fontSize:3.4,fill:"#333",tickFormat:(g)=>oncoPct[oncoGenes.indexOf(g)]})]});
const riskStrip=[{s:0,e:499,c:"#ff0000"},{s:499,e:944,c:"#0000ff"}];
panel([17.7,970.7,332.3,982],{
  x:{domain:[0,944]},y:{domain:[0,1]},color:{type:"identity"},
  marks:[Plot.rect(riskStrip,{x1:"s",x2:"e",y1:0,y2:1,fill:"c"})]});
label(334,976.3,"risk",{size:3.2,color:"#333"});
const sideRows=oncoSide.flatMap((r,i)=>r.map(([t,v])=>({g:oncoGenes[i],v,c:mutColors[t]})));
panel([343.7,832,427.5,969.3],{
  x:{domain:[0,228]},y:{type:"band",domain:oncoGenes,padding:.1,paddingOuter:.05},color:{type:"identity"},
  marks:[Plot.barX(sideRows,{x:"v",y:"g",fill:"c"}),
    Plot.frame({anchor:"top",stroke:"#888",strokeWidth:.4,dy:-1.5}),
    Plot.axisX([0,228],{anchor:"top",label:null,fontSize:3,tickSize:1,tickPadding:.5,...axisGrey})]});
label(385,826,"No. of samples",{size:3,anchor:"middle",color:"#444"});
oncoLegend.forEach(([t,c],i)=>{
  const col=i<4?0:1,row=i%4,x=col?50:4,y=986+row*3.7;
  swatch(x,y-.6,1.2,1.2,c,true);label(x+3.5,y,t,{size:3.6,color:"#333"});
});
label(103,986,"risk",{size:3.6,color:"#333"});
swatch(106,990.9,1.2,1.2,"#ff0000",true);label(110,991.5,"High_risk",{size:3.6,color:"#333"});
swatch(106,994.6,1.2,1.2,"#0000ff",true);label(110,995.2,"Low_risk",{size:3.6,color:"#333"});

/* ---------- D: box ---------- */
const SERIF="Liberation Serif, Times New Roman, serif";
const tb=tmbBoxes.map((d,i)=>({...d,i}));
panel([396,914,507.3,1018.3],{
  x:{type:"linear",domain:[-.77,1.8]},y:{domain:[-.43,7.03]},color:{type:"identity"},
  marks:[Plot.gridX([.5],{stroke:"#e4e4e4",strokeOpacity:1,strokeWidth:.6}),
    Plot.gridY([0,2,4,6],{stroke:"#e4e4e4",strokeOpacity:1,strokeWidth:.6}),
    Plot.ruleX(tb,{x:"i",y1:"lo",y2:"hi",stroke:"#222",strokeWidth:.7}),
    Plot.ruleY(tb.flatMap(d=>[{i:d.i,y:d.lo},{i:d.i,y:d.hi}]),{y:"y",x1:d=>d.i-.26,x2:d=>d.i+.26,stroke:"#222",strokeWidth:.7}),
    Plot.rect(tb,{x1:d=>d.i-.4,x2:d=>d.i+.4,y1:"q1",y2:"q3",fill:"fill",stroke:"#222",strokeWidth:.6}),
    Plot.ruleY(tb,{y:"med",x1:d=>d.i-.4,x2:d=>d.i+.4,stroke:"#222",strokeWidth:.8}),
    Plot.text(["****"],{x:.5,y:6.45,text:d=>d,fontSize:7,fill:"#222"}),
    Plot.frame({stroke:"#222",strokeWidth:.8}),
    Plot.axisX([.5],{label:null,tickSize:2,tickPadding:1.5,fontSize:8,fontFamily:SERIF,fill:"#222",stroke:"#222",tickFormat:()=>"TMB"}),
    Plot.axisY([0,2,4,6],{label:null,tickSize:2,tickPadding:1.5,fontSize:7.4,fontFamily:SERIF,fill:"#333",stroke:"#222"})]});
label(380,966,"Score",{size:8,family:SERIF,anchor:"middle",rotate:-90,color:"#222"});
label(513,919,"risk",{size:8,family:SERIF,color:"#222"});
swatch(513.2,928,7,7,"#e8533f",true);label(522,933,"High_risk",{size:7.6,family:SERIF,color:"#222"});
swatch(513.2,942.5,7,7,"#1b77b5",true);label(522,947,"Low_risk",{size:7.6,family:SERIF,color:"#222"});

/* ---------- D: scatter ---------- */
const pts=[...scatterOut,...scatterCore,...scatterDense].map(([x,y])=>({x,y}));
const trend=trendX.map((x,i)=>({x,y:trendY[i],l:trendLow[i],h:trendHigh[i]}));
const sxDomain=[-1.576,2.706],syDomain=[-1.1,23.95];
panel([576.7,903.3,718,1024.3],{
  x:{domain:sxDomain},y:{domain:syDomain},
  marks:[Plot.gridX([-1,0,1,2],{stroke:"#e6e6e6",strokeOpacity:1,strokeWidth:.5}),
    Plot.gridY([0,5,10,15,20],{stroke:"#e6e6e6",strokeOpacity:1,strokeWidth:.5}),
    Plot.dot(pts,{x:"x",y:"y",r:1.35,fill:"#111"}),
    Plot.areaY(trend,{x:"x",y1:"l",y2:"h",fill:"#9db4ee",fillOpacity:.7}),
    Plot.line(trend,{x:"x",y:"y",stroke:"#2f57d4",strokeWidth:1}),
    Plot.frame({stroke:"#cfcfcf",strokeWidth:.7}),
    Plot.axisX([-1,0,1,2],{label:null,fontSize:5.6,tickSize:1.5,tickPadding:1,stroke:"#666",fill:"#444",tickFormat:d=>String(d).replace("-","−")}),
    Plot.axisY([0,5,10,15,20],{label:null,fontSize:5.6,tickSize:1.5,tickPadding:1,stroke:"#666",fill:"#444"})]});
label(647.7,1036,"riskScore",{size:6.2,anchor:"middle",color:"#222"});
label(561,958,"TMB",{size:6.2,anchor:"middle",rotate:-90,color:"#222"});
const rp=document.createElement("div");rp.className="t";
rp.innerHTML='<i>R</i> = 0.19, <i>p</i> = 6.3e-07';
rp.style.cssText="left:715px;top:914px;font-size:7px;color:#222;transform:translate(-100%,-50%);";
root.appendChild(rp);
panel([576.7,880,718,902.8],{
  x:{domain:sxDomain},y:{domain:[0,1]},
  marks:[Plot.areaY(topDensityX.map((x,i)=>({x,v:topDensity[i]})),{x:"x",y:"v",fill:"#2f5fe0",stroke:"#1a2a66",strokeWidth:.5,curve:"catmull-rom"}),
    Plot.ruleY([0],{stroke:"#222",strokeWidth:.6,x1:-1.5,x2:2.5})]});
panel([718,903.3,745,1024.3],{
  x:{domain:[0,1]},y:{domain:syDomain},
  marks:[Plot.areaX(rightDensityY.map((y,i)=>({y,v:rightDensity[i]})),{y:"y",x:"v",fill:"#f5a500",stroke:"#6b5a20",strokeWidth:.4,curve:"catmull-rom"}),
    Plot.ruleX([0],{stroke:"#333",strokeWidth:.6,y1:-.8,y2:23.9})]});
</script></body></html>
